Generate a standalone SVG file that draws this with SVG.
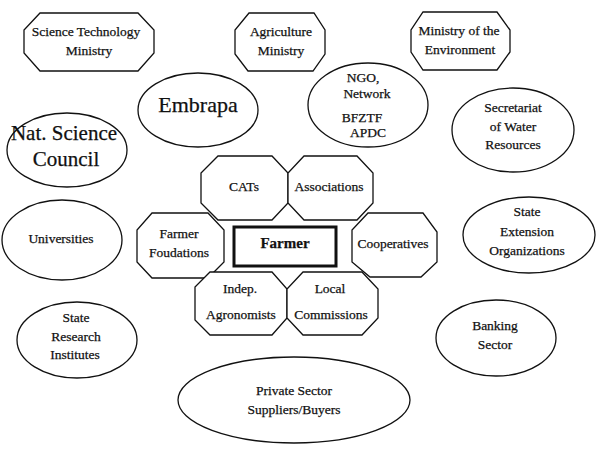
<svg xmlns="http://www.w3.org/2000/svg" width="600" height="449" viewBox="0 0 600 449" font-family="'Liberation Serif', 'DejaVu Serif', serif">
<style>
.s{fill:#fff;stroke:#111;stroke-width:1.3}
text{font-family:'Liberation Serif','DejaVu Serif',serif;font-size:13.5px;fill:#111;stroke:#111;stroke-width:0.25;text-anchor:middle}
.big{font-size:22px}
.nat{font-size:21px}
.b{font-weight:bold;font-size:15px}
</style>
<rect width="600" height="449" fill="#fff"/>
<g id="connectors"></g>
<g id="sci-tech">
<polygon class="s" points="40,13 138,13 154,30 154,53 138,71 40,71 24,53 24,30"/>
<text x="86" y="36">Science Technology</text>
<text x="89" y="55">Ministry</text>
</g>
<g id="agriculture">
<polygon class="s" points="249,13 314,13 325,30 325,54 313,71 248,71 235,54 235,30"/>
<text x="281" y="36">Agriculture</text>
<text x="281" y="55">Ministry</text>
</g>
<g id="environment">
<polygon class="s" points="423,12 497,12 510,30 510,52 497,70 423,70 411,52 411,30"/>
<text x="459" y="35">Ministry of the</text>
<text x="460" y="54">Environment</text>
</g>
<g id="embrapa">
<ellipse class="s" cx="198" cy="110" rx="60" ry="37"/>
<text class="big" x="198" y="112">Embrapa</text>
</g>
<g id="nat-science">
<ellipse class="s" cx="67" cy="150" rx="60" ry="37"/>
<text class="nat" x="64" y="140">Nat. Science</text>
<text class="nat" x="66" y="166">Council</text>
</g>
<g id="ngo">
<ellipse class="s" cx="368" cy="105" rx="60" ry="42"/>
<text x="363" y="82">NGO,</text>
<text x="367" y="98">Network</text>
<text x="362" y="122">BFZTF</text>
<text x="368" y="137">APDC</text>
</g>
<g id="water">
<ellipse class="s" cx="513" cy="130" rx="61" ry="42"/>
<text x="513" y="112">Secretariat</text>
<text x="513" y="131">of Water</text>
<text x="513" y="149">Resources</text>
</g>
<g id="cats">
<polygon class="s" points="218,156 272,156 288,173 288,203 272,220 218,220 201,203 201,173"/>
<text x="244" y="191">CATs</text>
</g>
<g id="associations">
<polygon class="s" points="304,156 357,156 373,173 373,203 357,220 304,220 288,203 288,173"/>
<text x="329" y="191">Associations</text>
</g>
<g id="foundations">
<polygon class="s" points="152,213 208,213 224,230 224,262 208,278 152,278 137,262 137,230"/>
<text x="179" y="238">Farmer</text>
<text x="179" y="257">Foudations</text>
</g>
<g id="farmer">
<rect x="234" y="227" width="102" height="39" fill="#fff" stroke="#111" stroke-width="3"/>
<text class="b" x="285" y="248">Farmer</text>
</g>
<g id="cooperatives">
<polygon class="s" points="368,213 423,213 437,232 437,262 421,277 370,277 352,262 352,230"/>
<text x="393" y="248">Cooperatives</text>
</g>
<g id="agronomists">
<polygon class="s" points="210,272 272,272 287,289 287,318 272,335 210,335 195,320 195,287"/>
<text x="240" y="293">Indep.</text>
<text x="241" y="319">Agronomists</text>
</g>
<g id="local">
<polygon class="s" points="303,272 362,272 378,289 378,318 362,335 303,335 287,318 287,289"/>
<text x="330" y="293">Local</text>
<text x="331" y="319">Commissions</text>
</g>
<g id="universities">
<ellipse class="s" cx="62" cy="240" rx="60" ry="40"/>
<text x="61" y="243">Universities</text>
</g>
<g id="extension">
<ellipse class="s" cx="529" cy="235" rx="66" ry="38"/>
<text x="527" y="216">State</text>
<text x="527" y="236">Extension</text>
<text x="527" y="255">Organizations</text>
</g>
<g id="research">
<ellipse class="s" cx="77" cy="340" rx="60" ry="38"/>
<text x="76" y="322">State</text>
<text x="76" y="341">Research</text>
<text x="75" y="359">Institutes</text>
</g>
<g id="banking">
<ellipse class="s" cx="496" cy="338" rx="60" ry="38"/>
<text x="495" y="330">Banking</text>
<text x="495" y="349">Sector</text>
</g>
<g id="private">
<ellipse class="s" cx="294" cy="400" rx="116" ry="43"/>
<text x="294" y="395">Private Sector</text>
<text x="294" y="414">Suppliers/Buyers</text>
</g>
</svg>
